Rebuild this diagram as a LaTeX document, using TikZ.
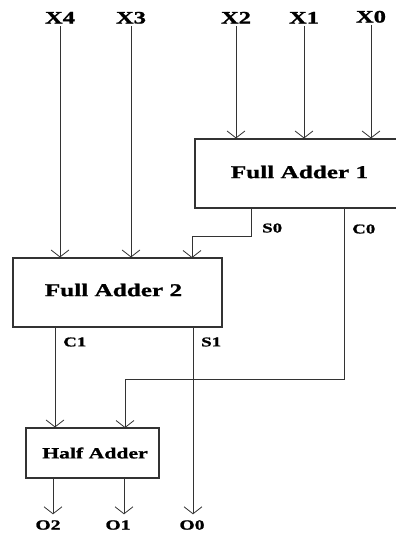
\documentclass[tikz,border=0pt]{standalone}
\usepackage{fontspec}
\setmainfont{Liberation Serif}[FakeStretch=1.4,BoldFeatures={FakeBold=1.2}]
\usetikzlibrary{arrows.meta}
\definecolor{wire}{HTML}{333333}
\begin{document}
\begin{tikzpicture}[x=1pt,y=-1pt,
  wire/.style={draw=wire,line width=0.9pt},
  arr/.style={wire,-{Straight Barb[length=7pt,width=18pt,line width=0.8pt]}},
  block/.style={draw=wire,line width=1.1pt,rectangle,inner sep=0pt},
  blocktext/.style={inner sep=0pt,font=\bfseries\fontsize{18}{20}\selectfont},
  inname/.style={inner sep=2.5pt,anchor=base,font=\bfseries\fontsize{17.5}{19}\selectfont},
  sig/.style={inner sep=0pt,font=\bfseries\fontsize{13.5}{15}\selectfont},
  outname/.style={inner sep=0pt,outer sep=6pt,font=\bfseries\fontsize{14}{16}\selectfont},
]
\useasboundingbox (0,0) rectangle (396,533);
\clip (0,0) rectangle (396,533);

% inputs
\node[inname] (X4) at (60,23.5) {X4};
\node[inname] (X3) at (131,23.5) {X3};
\node[inname] (X2) at (236,23.5) {X2};
\node[inname] (X1) at (304,23.5) {X1};
\node[inname] (X0) at (371,22.5) {X0};

% adder blocks
\node[block,minimum width=210pt,minimum height=69pt] (FA1) at (300,173.5) {};
\node[blocktext] (FA1t) at (299.5,172) {Full Adder 1};
\node[block,minimum width=209pt,minimum height=69pt] (FA2) at (117.5,292.5) {};
\node[blocktext] (FA2t) at (113.5,290) {Full Adder 2};
\node[block,minimum width=133pt,minimum height=50pt] (HA) at (92.5,453) {};
\node[inner sep=0pt,font=\bfseries\fontsize{15.5}{17}\selectfont] (HAt) at (95,453) {Half Adder};

% wire end points on block edges
\coordinate (s0a) at (251,208);
\coordinate (s0b) at (192,258);
\coordinate (c0a) at (344,208);
\coordinate (c0b) at (125,428);
\coordinate (c1a) at (55,327);
\coordinate (s1a) at (193,327);
\coordinate (o2a) at (53,478);
\coordinate (o1a) at (124,478);

% outputs
\node[outname] (O2) at (48,525) {O2};
\node[outname] (O1) at (118,525) {O1};
\node[outname] (O0) at (192,525) {O0};

% signal labels
\node[sig,anchor=west] (S0) at (262,228) {S0};
\node[sig,anchor=west] (C0) at (352,229) {C0};
\node[sig,anchor=west] (C1) at (63,342) {C1};
\node[sig,anchor=west] (S1) at (201,342) {S1};

% input wires
\draw[arr] (X4.south) -- (X4.south |- FA2.north);
\draw[arr] (X3.south) -- (X3.south |- FA2.north);
\draw[arr] (X2.south) -- (X2.south |- FA1.north);
\draw[arr] (X1.south) -- (X1.south |- FA1.north);
\draw[arr] (X0.south) -- (X0.south |- FA1.north);

% internal wires
\draw[arr] (s0a) -- ++(0,28) -| (s0b);
\draw[arr] (c0a) -- ++(0,171) -| (c0b);
\draw[arr] (c1a) -- (c1a |- HA.north);

% output wires
\draw[arr] (s1a) -- (s1a |- O0.north);
\draw[arr] (o2a) -- (o2a |- O2.north);
\draw[arr] (o1a) -- (o1a |- O1.north);
\end{tikzpicture}
\end{document}
